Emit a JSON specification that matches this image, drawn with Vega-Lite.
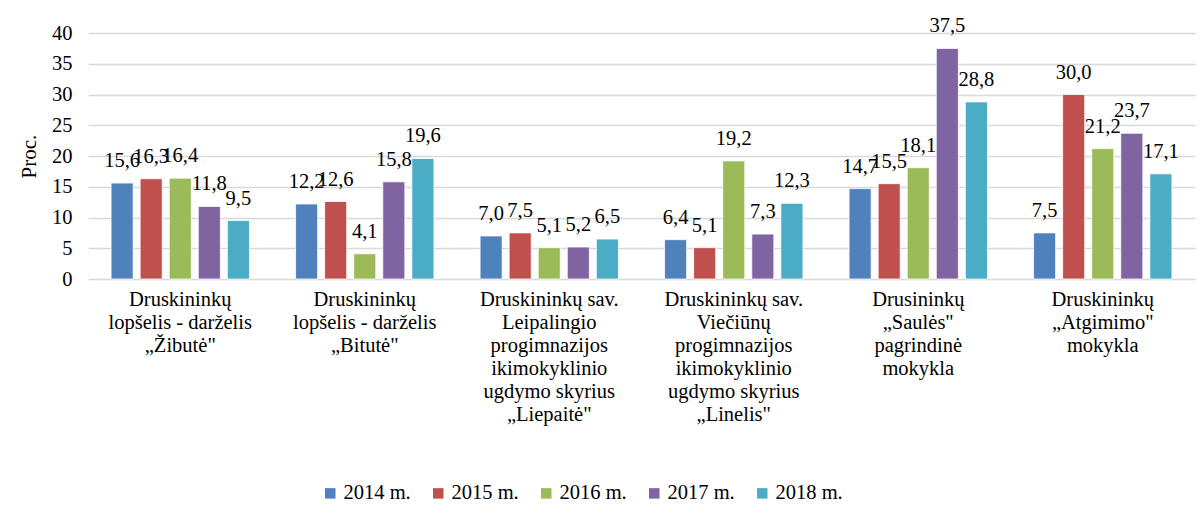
{
  "$schema": "https://vega.github.io/schema/vega-lite/v6.json",
  "autosize": {"type": "none"},
  "width": 1107,
  "height": 246,
  "padding": {"left": 88, "top": 33, "right": 8, "bottom": 227},
  "config": {
    "font": "Liberation Serif",
    "locale": {"number": {"decimal": ",", "thousands": " ", "grouping": [3], "currency": ["", " €"]}},
    "view": {"stroke": null},
    "text": {"font": "Liberation Serif"},
    "axis": {"labelFont": "Liberation Serif", "titleFont": "Liberation Serif", "labelColor": "#000000", "titleColor": "#000000"},
    "legend": {"labelFont": "Liberation Serif", "labelColor": "#000000"}
  },
  "data": {
    "values": [
      {"cat": "Druskininkų|lopšelis - darželis|„Žibutė\"", "year": "2014 m.", "v": 15.6},
      {"cat": "Druskininkų|lopšelis - darželis|„Žibutė\"", "year": "2015 m.", "v": 16.3},
      {"cat": "Druskininkų|lopšelis - darželis|„Žibutė\"", "year": "2016 m.", "v": 16.4},
      {"cat": "Druskininkų|lopšelis - darželis|„Žibutė\"", "year": "2017 m.", "v": 11.8},
      {"cat": "Druskininkų|lopšelis - darželis|„Žibutė\"", "year": "2018 m.", "v": 9.5},
      {"cat": "Druskininkų|lopšelis - darželis|„Bitutė\"", "year": "2014 m.", "v": 12.2},
      {"cat": "Druskininkų|lopšelis - darželis|„Bitutė\"", "year": "2015 m.", "v": 12.6},
      {"cat": "Druskininkų|lopšelis - darželis|„Bitutė\"", "year": "2016 m.", "v": 4.1},
      {"cat": "Druskininkų|lopšelis - darželis|„Bitutė\"", "year": "2017 m.", "v": 15.8},
      {"cat": "Druskininkų|lopšelis - darželis|„Bitutė\"", "year": "2018 m.", "v": 19.6},
      {"cat": "Druskininkų sav.|Leipalingio|progimnazijos|ikimokyklinio|ugdymo skyrius|„Liepaitė\"", "year": "2014 m.", "v": 7.0},
      {"cat": "Druskininkų sav.|Leipalingio|progimnazijos|ikimokyklinio|ugdymo skyrius|„Liepaitė\"", "year": "2015 m.", "v": 7.5},
      {"cat": "Druskininkų sav.|Leipalingio|progimnazijos|ikimokyklinio|ugdymo skyrius|„Liepaitė\"", "year": "2016 m.", "v": 5.1},
      {"cat": "Druskininkų sav.|Leipalingio|progimnazijos|ikimokyklinio|ugdymo skyrius|„Liepaitė\"", "year": "2017 m.", "v": 5.2},
      {"cat": "Druskininkų sav.|Leipalingio|progimnazijos|ikimokyklinio|ugdymo skyrius|„Liepaitė\"", "year": "2018 m.", "v": 6.5},
      {"cat": "Druskininkų sav.|Viečiūnų|progimnazijos|ikimokyklinio|ugdymo skyrius|„Linelis\"", "year": "2014 m.", "v": 6.4},
      {"cat": "Druskininkų sav.|Viečiūnų|progimnazijos|ikimokyklinio|ugdymo skyrius|„Linelis\"", "year": "2015 m.", "v": 5.1},
      {"cat": "Druskininkų sav.|Viečiūnų|progimnazijos|ikimokyklinio|ugdymo skyrius|„Linelis\"", "year": "2016 m.", "v": 19.2},
      {"cat": "Druskininkų sav.|Viečiūnų|progimnazijos|ikimokyklinio|ugdymo skyrius|„Linelis\"", "year": "2017 m.", "v": 7.3},
      {"cat": "Druskininkų sav.|Viečiūnų|progimnazijos|ikimokyklinio|ugdymo skyrius|„Linelis\"", "year": "2018 m.", "v": 12.3},
      {"cat": "Drusininkų|„Saulės\"|pagrindinė|mokykla", "year": "2014 m.", "v": 14.7},
      {"cat": "Drusininkų|„Saulės\"|pagrindinė|mokykla", "year": "2015 m.", "v": 15.5},
      {"cat": "Drusininkų|„Saulės\"|pagrindinė|mokykla", "year": "2016 m.", "v": 18.1},
      {"cat": "Drusininkų|„Saulės\"|pagrindinė|mokykla", "year": "2017 m.", "v": 37.5},
      {"cat": "Drusininkų|„Saulės\"|pagrindinė|mokykla", "year": "2018 m.", "v": 28.8},
      {"cat": "Druskininkų|„Atgimimo\"|mokykla", "year": "2014 m.", "v": 7.5},
      {"cat": "Druskininkų|„Atgimimo\"|mokykla", "year": "2015 m.", "v": 30.0},
      {"cat": "Druskininkų|„Atgimimo\"|mokykla", "year": "2016 m.", "v": 21.2},
      {"cat": "Druskininkų|„Atgimimo\"|mokykla", "year": "2017 m.", "v": 23.7},
      {"cat": "Druskininkų|„Atgimimo\"|mokykla", "year": "2018 m.", "v": 17.1}
    ]
  },
  "encoding": {
    "x": {
      "field": "cat", "type": "nominal", "sort": null,
      "scale": {"paddingInner": 0.25, "paddingOuter": 0.125},
      "axis": {
        "title": null, "labelAngle": 0, "labelFontSize": 20.5, "labelLineHeight": 23,
        "labelFont": "Liberation Serif",
        "labelExpr": "split(datum.label, '|')", "ticks": false, "domain": false,
        "labelPadding": 10, "labelBaseline": "top", "labelLimit": 300
      }
    },
    "xOffset": {"field": "year", "type": "nominal", "scale": {"paddingInner": 0.24, "paddingOuter": 0}},
    "y": {
      "field": "v", "type": "quantitative",
      "scale": {"domain": [0, 40], "nice": false},
      "axis": {
        "title": "Proc.", "titleFontSize": 21, "titleFontWeight": "normal", "titlePadding": 12,
        "titleFont": "Liberation Serif", "labelFont": "Liberation Serif",
        "labelFontSize": 20.5, "values": [0, 5, 10, 15, 20, 25, 30, 35, 40],
        "ticks": false, "domain": false, "labelPadding": 16,
        "gridColor": "#D9D9D9", "gridWidth": 1.5
      }
    }
  },
  "layer": [
    {
      "mark": {"type": "bar", "stroke": "#ffffff", "strokeWidth": 0.8},
      "encoding": {
        "color": {
          "field": "year", "type": "nominal",
          "scale": {"range": ["#4F81BD", "#C0504D", "#9BBB59", "#8064A2", "#4BACC6"]},
          "legend": {
            "title": null, "orient": "none", "direction": "horizontal",
            "legendX": 232, "legendY": 450, "symbolType": "square", "symbolSize": 110,
            "symbolStrokeWidth": 0, "labelFontSize": 20.5, "labelFont": "Liberation Serif",
            "columnPadding": 17, "labelOffset": 3
          }
        }
      }
    },
    {
      "mark": {"type": "text", "dy": -12, "fontSize": 20.5, "font": "Liberation Serif", "baseline": "bottom", "color": "#000000"},
      "encoding": {
        "text": {"field": "v", "type": "quantitative", "format": ".1f"}
      }
    }
  ]
}
